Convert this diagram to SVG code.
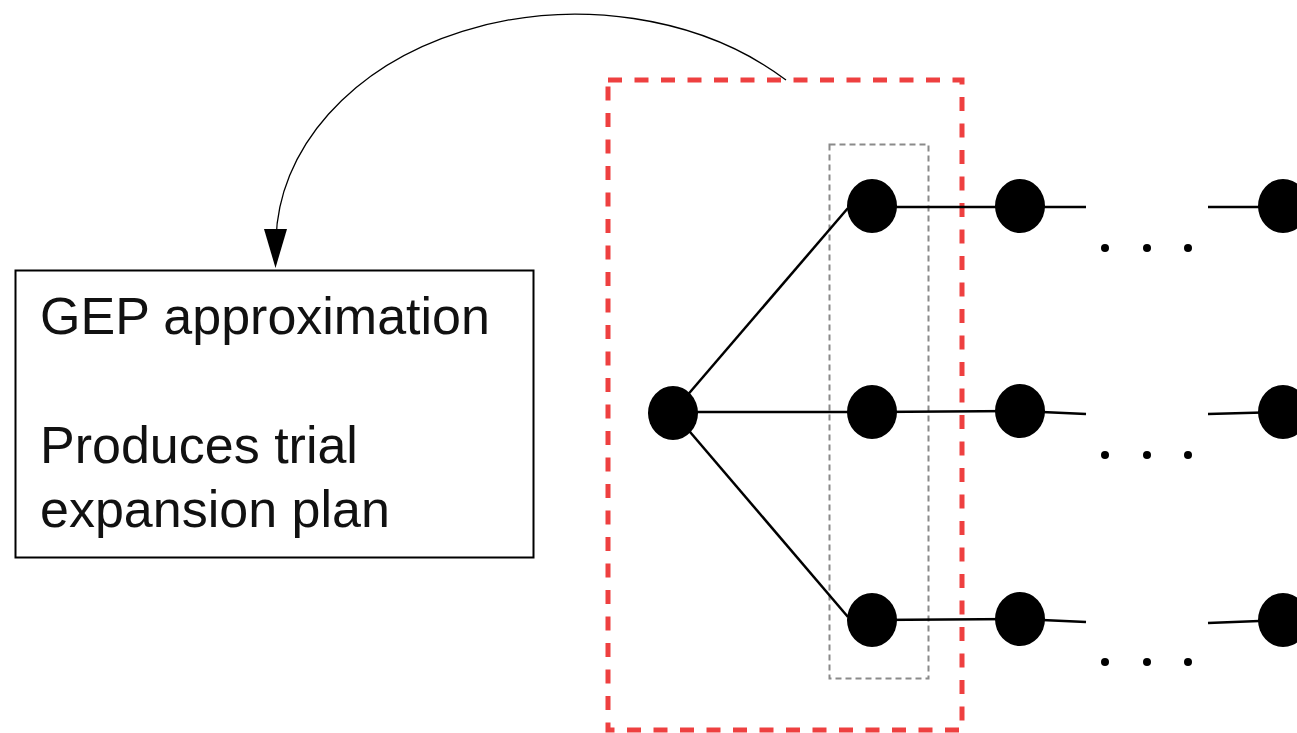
<svg xmlns="http://www.w3.org/2000/svg" width="1297" height="733" viewBox="0 0 1297 733">
  <style>
    .edge { stroke: #000; stroke-width: 2.5; fill: none; }
    .node { fill: #000; }
    .dot { fill: #000; }
    .label { font-family: "Liberation Sans", Arial, sans-serif; font-size: 52px; fill: #111; }
  </style>
  <rect width="1297" height="733" fill="#fff"/>

  <!-- grouping frames -->
  <g id="frame-outer">
    <rect x="608" y="80" width="354" height="650" fill="none" stroke="#ee4040" stroke-width="5" stroke-dasharray="14 12.5"/>
  </g>
  <g id="frame-inner">
    <rect x="829.5" y="144.5" width="99" height="534" fill="none" stroke="#8a8a8a" stroke-width="2" stroke-dasharray="6 4"/>
  </g>

  <!-- connectors -->
  <g id="connectors">
    <line class="edge" x1="673" y1="412" x2="848" y2="208"/>
    <line class="edge" x1="673" y1="412" x2="872" y2="412"/>
    <line class="edge" x1="673" y1="412" x2="848" y2="617"/>
    <line class="edge" x1="872" y1="207" x2="1086" y2="207"/>
    <line class="edge" x1="872" y1="412" x2="1020" y2="411"/>
    <line class="edge" x1="1020" y1="411" x2="1086" y2="414"/>
    <line class="edge" x1="872" y1="620" x2="1020" y2="619"/>
    <line class="edge" x1="1020" y1="619" x2="1086" y2="622"/>
    <line class="edge" x1="1208" y1="207" x2="1283" y2="207"/>
    <line class="edge" x1="1208" y1="414" x2="1283" y2="412"/>
    <line class="edge" x1="1208" y1="623" x2="1283" y2="620"/>
    <path d="M786,80 A300,230 0 0 0 276,240" fill="none" stroke="#000" stroke-width="1.3"/>
    <polygon points="264,229 287,229 275.5,268" fill="#000"/>
  </g>

  <!-- tree nodes -->
  <g id="node-root"><ellipse class="node" cx="673" cy="413" rx="25" ry="27"/></g>
  <g id="node-a1"><ellipse class="node" cx="872" cy="206" rx="25" ry="27"/></g>
  <g id="node-b1"><ellipse class="node" cx="872" cy="412" rx="25" ry="27"/></g>
  <g id="node-c1"><ellipse class="node" cx="872" cy="620" rx="25" ry="27"/></g>
  <g id="node-a2"><ellipse class="node" cx="1020" cy="206" rx="25" ry="27"/></g>
  <g id="node-b2"><ellipse class="node" cx="1020" cy="411" rx="25" ry="27"/></g>
  <g id="node-c2"><ellipse class="node" cx="1020" cy="619" rx="25" ry="27"/></g>
  <g id="node-an"><ellipse class="node" cx="1283" cy="206" rx="25" ry="27"/></g>
  <g id="node-bn"><ellipse class="node" cx="1283" cy="412" rx="25" ry="27"/></g>
  <g id="node-cn"><ellipse class="node" cx="1283" cy="620" rx="25" ry="27"/></g>

  <!-- ellipsis dots -->
  <g id="ellipsis">
    <circle class="dot" cx="1105" cy="248" r="4"/>
    <circle class="dot" cx="1147" cy="248" r="4"/>
    <circle class="dot" cx="1188" cy="248" r="4"/>
    <circle class="dot" cx="1105" cy="455" r="4"/>
    <circle class="dot" cx="1147" cy="455" r="4"/>
    <circle class="dot" cx="1188" cy="455" r="4"/>
    <circle class="dot" cx="1105" cy="662" r="4"/>
    <circle class="dot" cx="1147" cy="662" r="4"/>
    <circle class="dot" cx="1188" cy="662" r="4"/>
  </g>

  <!-- approximation box -->
  <g id="node-gep">
    <rect x="15.5" y="270.5" width="518" height="287" fill="#fff" stroke="#000" stroke-width="2"/>
    <text class="label" x="40" y="334">GEP approximation</text>
    <text class="label" x="40" y="463">Produces trial</text>
    <text class="label" x="40" y="527">expansion plan</text>
  </g>
</svg>
